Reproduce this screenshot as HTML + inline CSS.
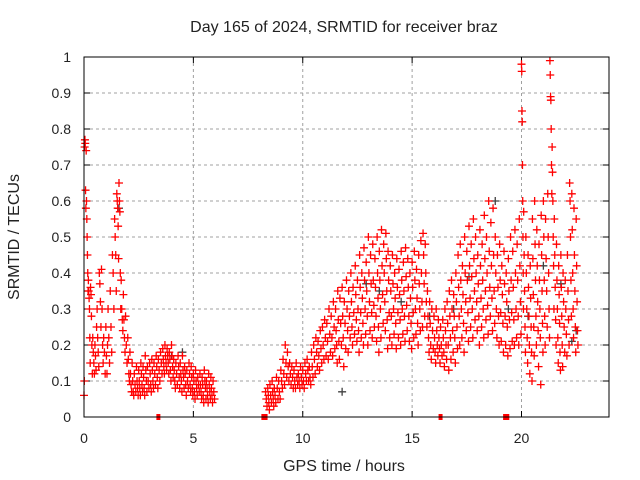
<!DOCTYPE html>
<html><head><meta charset="utf-8"><style>
body{margin:0;background:#fff}
svg{display:block}
text{font-family:"Liberation Sans",sans-serif;font-size:14px;fill:#222}
.big{font-size:16px}
</style></head><body>
<svg id="c" width="640" height="480">
<text class="big" x="344" y="32" text-anchor="middle">Day 165 of 2024, SRMTID for receiver braz</text>
<text class="big" x="344" y="471" text-anchor="middle">GPS time / hours</text>
<text class="big" transform="translate(19,237) rotate(-90)" text-anchor="middle">SRMTID / TECUs</text>
<g id="grid"></g>
<g id="ticks"></g>
<g id="grey"></g>
<g id="red"></g>
<rect x="84" y="57" width="525" height="360" fill="none" stroke="#000" stroke-width="1"/>
</svg>
<script>
const xTicks=[0,5,10,15,20];
const yTicks=[0,0.1,0.2,0.3,0.4,0.5,0.6,0.7,0.8,0.9,1];
const yTickLabels=["0","0.1","0.2","0.3","0.4","0.5","0.6","0.7","0.8","0.9","1"];
// red series: [start time of 0.1h bin, values in bin]
const redBins=[
[0.0,[.06,.1,.75,.77,.76,.63,.58]],[0.1,[.74,.6,.55,.5,.45,.4,.35]],[0.2,[.38,.35,.33,.3,.22,.15]],[0.3,[.36,.34,.28,.2,.12]],
[0.4,[.22,.18,.15,.12]],[0.5,[.2,.17,.13,.25]],[0.6,[.3,.22,.18,.14]],[0.7,[.4,.37,.32,.25]],[0.8,[.41,.3,.2,.15]],
[0.9,[.22,.18,.12]],[1.0,[.25,.17,.12,.2]],[1.1,[.3,.22,.15]],[1.2,[.35,.25,.18]],[1.3,[.45,.4,.3]],[1.4,[.55,.5,.45,.35]],
[1.5,[.62,.6,.58,.53,.44]],[1.6,[.65,.6,.57,.4,.3]],[1.7,[.38,.3,.27,.24]],[1.8,[.34,.27,.22,.18]],[1.9,[.28,.2,.15]],
[2.0,[.22,.16,.12,.1]],[2.1,[.18,.12,.09,.07]],[2.2,[.15,.1,.07,.06]],[2.3,[.12,.09,.07]],[2.4,[.14,.1,.08,.06]],
[2.5,[.13,.1,.08,.06]],[2.6,[.15,.12,.09,.07]],[2.7,[.14,.11,.08,.06]],[2.8,[.17,.13,.1,.07]],[2.9,[.14,.1,.08]],
[3.0,[.15,.12,.09,.07]],[3.1,[.16,.13,.1,.08]],[3.2,[.15,.12,.09]],[3.3,[.17,.14,.11,.08]],[3.4,[.16,.13,.1]],
[3.5,[.18,.15,.12]],[3.6,[.19,.16,.14,.12]],[3.7,[.2,.17,.15,.13]],[3.8,[.19,.17,.15,.12]],[3.9,[.18,.16,.13,.1]],
[4.0,[.2,.17,.14,.11]],[4.1,[.16,.13,.1,.08]],[4.2,[.15,.12,.09]],[4.3,[.17,.14,.11,.08]],[4.4,[.15,.12,.1,.07]],
[4.5,[.17,.13,.11,.08]],[4.6,[.14,.12,.09,.06]],[4.7,[.13,.1,.08]],[4.8,[.15,.12,.09,.07]],[4.9,[.14,.11,.08,.06]],
[5.0,[.12,.1,.07,.05]],[5.1,[.13,.1,.08,.06]],[5.2,[.11,.09,.07]],[5.3,[.12,.09,.07,.05]],[5.4,[.11,.09,.06,.04]],
[5.5,[.13,.1,.08,.05]],[5.6,[.1,.08,.06,.04]],[5.7,[.12,.09,.07,.05]],[5.8,[.11,.08,.06,.04]],[5.9,[.1,.07,.05]],
[8.3,[.07,.05,.03]],[8.4,[.08,.06,.04,.02]],[8.5,[.09,.06,.04]],[8.6,[.1,.07,.05,.03]],[8.7,[.08,.06,.04]],
[8.8,[.11,.08,.05]],[8.9,[.1,.07,.05]],[9.0,[.13,.1,.08]],[9.1,[.16,.12,.09]],[9.2,[.2,.15,.11]],[9.3,[.18,.14,.1]],
[9.4,[.15,.12,.09]],[9.5,[.14,.11,.08]],[9.6,[.13,.1,.08]],[9.7,[.15,.11,.09]],[9.8,[.12,.1,.08]],[9.9,[.14,.11,.09]],
[10.0,[.13,.1,.08]],[10.1,[.15,.12,.1]],[10.2,[.16,.13,.1]],[10.3,[.14,.11,.09]],[10.4,[.18,.14,.11]],[10.5,[.2,.16,.12]],
[10.6,[.22,.18,.14]],[10.7,[.21,.17,.13]],[10.8,[.24,.19,.15]],[10.9,[.25,.2,.16]],[11.0,[.27,.22,.17]],[11.1,[.26,.21,.16]],
[11.2,[.3,.23,.18]],[11.3,[.28,.22,.17]],[11.4,[.32,.25,.19]],[11.5,[.3,.24,.2,.15]],[11.6,[.35,.27,.21,.16]],
[11.7,[.33,.26,.2]],[11.8,[.36,.28,.22,.14]],[11.9,[.32,.26,.19]],[12.0,[.38,.3,.24,.18]],[12.1,[.35,.28,.22]],
[12.2,[.4,.32,.25,.2]],[12.3,[.36,.29,.23]],[12.4,[.42,.34,.27,.21]],[12.5,[.38,.3,.24,.18]],[12.6,[.45,.36,.29,.22]],
[12.7,[.4,.33,.26,.2]],[12.8,[.47,.38,.3,.23]],[12.9,[.43,.35,.28,.2]],[13.0,[.5,.4,.32,.24]],[13.1,[.45,.37,.29,.22]],
[13.2,[.48,.38,.31,.25]],[13.3,[.44,.36,.28,.21]],[13.4,[.5,.4,.33,.25,.18]],[13.5,[.46,.38,.3,.22]],[13.6,[.52,.42,.34,.26]],
[13.7,[.48,.4,.32,.24]],[13.8,[.51,.44,.35,.27,.19]],[13.9,[.46,.38,.29,.22]],[14.0,[.42,.35,.28,.2]],[14.1,[.45,.37,.3,.23]],
[14.2,[.4,.33,.26,.19]],[14.3,[.44,.36,.29,.22]],[14.4,[.41,.34,.27,.2]],[14.5,[.46,.38,.3,.23]],[14.6,[.43,.35,.28,.21]],
[14.7,[.47,.39,.31,.24]],[14.8,[.44,.36,.28,.21]],[14.9,[.4,.33,.26,.19]],[15.0,[.43,.36,.29,.22]],[15.1,[.46,.38,.3,.23]],
[15.2,[.41,.33,.26,.2]],[15.3,[.45,.37,.3,.24]],[15.4,[.49,.4,.32,.25]],[15.5,[.51,.45,.37,.28]],[15.6,[.48,.4,.32,.25]],
[15.7,[.35,.28,.22,.18]],[15.8,[.32,.26,.2,.16]],[15.9,[.3,.24,.19]],[16.0,[.28,.22,.18,.15]],[16.1,[.3,.24,.2,.17]],
[16.2,[.27,.22,.19,.15]],[16.3,[.25,.2,.17]],[16.4,[.27,.22,.18,.14]],[16.5,[.3,.24,.2,.16]],[16.6,[.32,.26,.2,.13]],
[16.7,[.35,.28,.22,.16]],[16.8,[.38,.3,.24,.18]],[16.9,[.34,.28,.22,.15]],[17.0,[.4,.32,.25,.19]],[17.1,[.45,.36,.28,.2]],
[17.2,[.48,.38,.3,.22]],[17.3,[.42,.34,.26,.18]],[17.4,[.5,.4,.32,.24]],[17.5,[.46,.38,.29,.21]],[17.6,[.53,.42,.33,.25]],
[17.7,[.48,.39,.3,.22]],[17.8,[.55,.44,.35,.27]],[17.9,[.5,.4,.32,.24]],[18.0,[.45,.37,.28,.2]],[18.1,[.52,.42,.33,.25]],
[18.2,[.48,.38,.3,.22]],[18.3,[.56,.44,.35,.27]],[18.4,[.5,.4,.31,.23]],[18.5,[.6,.46,.36,.28]],[18.6,[.54,.42,.33,.24]],
[18.7,[.58,.45,.35,.26]],[18.8,[.5,.4,.3,.22]],[18.9,[.45,.36,.28,.2]],[19.0,[.48,.38,.29,.21]],[19.1,[.42,.34,.26,.18]],
[19.2,[.46,.37,.28,.2]],[19.3,[.4,.32,.25,.17]],[19.4,[.44,.35,.27,.19]],[19.5,[.5,.38,.29,.21]],[19.6,[.46,.36,.27,.2]],
[19.7,[.52,.4,.3,.22]],[19.8,[.48,.38,.28,.2]],[19.9,[.55,.42,.32,.23]],[20.0,[.98,.96,.85,.82,.7,.6,.5,.4,.3]],
[20.1,[.57,.45,.35,.25,.18]],[20.2,[.5,.4,.3,.22,.15]],[20.3,[.45,.36,.28,.2,.12]],[20.4,[.42,.33,.25,.18,.1]],
[20.5,[.55,.44,.34,.25,.17]],[20.6,[.6,.48,.38,.28,.2]],[20.7,[.52,.42,.32,.24,.14]],[20.8,[.48,.38,.3,.22,.09]],
[20.9,[.56,.45,.35,.26,.18]],[21.0,[.6,.5,.38,.28,.2]],[21.1,[.55,.44,.35,.25]],[21.2,[.62,.5,.4,.3,.22]],
[21.3,[.99,.95,.89,.88,.8,.7,.62]],[21.4,[.75,.68,.6,.5,.42,.3]],[21.5,[.55,.45,.36,.27,.2]],[21.6,[.48,.38,.3,.22,.15]],
[21.7,[.42,.34,.26,.18,.13]],[21.8,[.45,.36,.28,.2,.14]],[21.9,[.4,.32,.25,.18]],[22.0,[.38,.3,.23,.17]],
[22.1,[.45,.35,.27,.2]],[22.2,[.65,.6,.5,.38,.28]],[22.3,[.62,.52,.4,.3,.22]],[22.4,[.58,.45,.35,.25,.18]],[22.5,[.55,.42,.32,.24,.2]]
];
const greyT=[1.6,4.0,4.5,12.9,14.5,16.9,17.6,18.8,19.4,20.3,21.0,21.8,22.3,22.5,13.5,15.8,11.8];
const greyV=[0.58,0.17,0.18,0.37,0.32,0.3,0.39,0.6,0.3,0.28,0.42,0.37,0.21,0.24,0.35,0.28,0.07];
const gapT=[3.4,8.2,8.3,16.3,19.25,19.35];
const X=t=>84+t*(525/24), Y=v=>417-v*360;
const NS='http://www.w3.org/2000/svg';
function mk(tag,attrs,parent){const e=document.createElementNS(NS,tag);for(const k in attrs)e.setAttribute(k,attrs[k]);parent.appendChild(e);return e;}
const grid=document.getElementById('grid'),ticks=document.getElementById('ticks');
xTicks.forEach(t=>{
 if(t>0){const g=mk('line',{x1:X(t),x2:X(t),y1:57,y2:417,stroke:'#a0a0a0','stroke-dasharray':'3,3'},grid);
 
 }
 mk('line',{x1:X(t),x2:X(t),y1:417,y2:411,stroke:'#000'},ticks);
 mk('line',{x1:X(t),x2:X(t),y1:57,y2:63,stroke:'#000'},ticks);
 const l=mk('text',{x:X(t),y:443,'text-anchor':'middle'},ticks);l.textContent=t;
 
 
});
yTicks.forEach((v,i)=>{
 if(v>0&&v<1){const g=mk('line',{x1:84,x2:609,y1:Y(v),y2:Y(v),stroke:'#a0a0a0','stroke-dasharray':'3,3'},grid);
 
 }
 mk('line',{x1:84,x2:90,y1:Y(v),y2:Y(v),stroke:'#000'},ticks);
 mk('line',{x1:603,x2:609,y1:Y(v),y2:Y(v),stroke:'#000'},ticks);
 const l=mk('text',{x:71,y:Y(v)+5,'text-anchor':'end'},ticks);l.textContent=yTickLabels[i];
 
 
});
function plus(g,t,v,col){const x=X(t),y=Y(v);
 const p=mk('path',{d:`M${x-4} ${y}h8M${x} ${y-4}v8`,stroke:col,'stroke-width':1.3,fill:'none'},g);
 
 }
const grey=document.getElementById('grey'),red=document.getElementById('red');
greyT.forEach((t,i)=>plus(grey,t,greyV[i],'#404040'));
redBins.forEach(([t,vals])=>vals.forEach((v,i)=>plus(red,t+0.1*i/vals.length,v,'#ff0000')));
gapT.forEach(t=>{const r=mk('rect',{x:X(t)-2,y:414,width:4,height:6,fill:'#ff0000'},red);
 
 });
</script>
</body></html>
